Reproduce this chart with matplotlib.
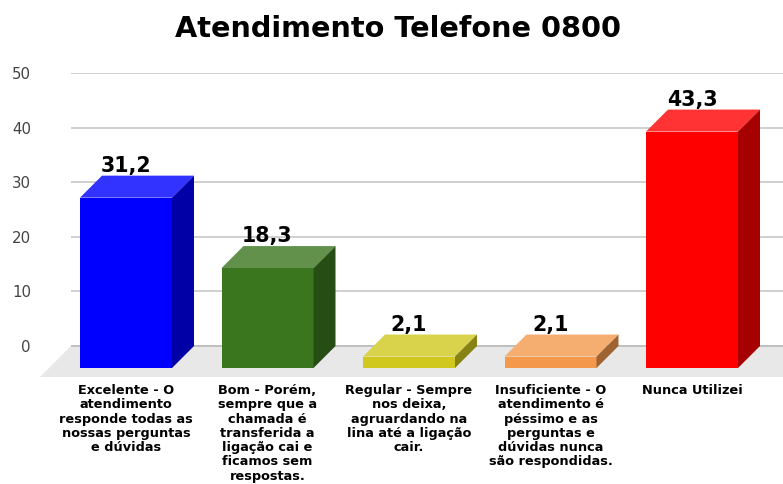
import matplotlib

matplotlib.use("Agg")
import matplotlib.pyplot as plt
import numpy as np
from matplotlib.colors import to_rgb
from matplotlib.patches import Polygon

title = "Atendimento Telefone 0800"
categories = [
    "Excelente - O\natendimento\nresponde todas as\nnossas perguntas\ne dúvidas",
    "Bom - Porém,\nsempre que a\nchamada é\ntransferida a\nligação cai e\nficamos sem\nrespostas.",
    "Regular - Sempre\nnos deixa,\nagruardando na\nlina até a ligação\ncair.",
    "Insuficiente - O\natendimento é\npéssimo e as\nperguntas e\ndúvidas nunca\nsão respondidas.",
    "Nunca Utilizei",
]
values = [31.2, 18.3, 2.1, 2.1, 43.3]
colors = ["#0000ff", "#3a761e", "#d0c81f", "#f4994c", "#ff0000"]
yticks = [0, 10, 20, 30, 40, 50]

W, H, DPI = 783, 484, 100
fig = plt.figure(figsize=(W / DPI, H / DPI), dpi=DPI)
# axes box in pixels: left 71, right 783, top 73 (=50), bottom 377
ax = fig.add_axes([71 / W, 1 - 377 / H, 712 / W, (377 - 73) / H])

px_x = 141.5  # pixels per category
px_y = 5.46  # pixels per unit
dx = 22 / px_x  # depth offset of the 3d bars
dy = 22 / px_y
width = 92 / px_x

x = np.arange(len(values))
ax.set_xlim(-55 / px_x, 657 / px_x)
ax.set_ylim(-31 / px_y, 50)

# floor
x0, x1 = ax.get_xlim()
fl = 31 / px_x
floor = Polygon(
    [(x0, 0), (x1 + 1, 0), (x1 + 1 - fl - 0.1, -31 / px_y), (-86 / px_x, -31 / px_y)],
    closed=True, facecolor="#e8e8e8", edgecolor="none", zorder=1, clip_on=False,
)
ax.add_patch(floor)

ax.set_yticks(yticks)
ax.grid(axis="y", color="#cccccc", lw=1.3, zorder=0)
ax.axhline(0, color="#333333", lw=1.2, zorder=1.5)

# front faces
ax.bar(x, values, width=width, bottom=-dy, color=colors, zorder=3, lw=0)

for xi, v, c in zip(x, values, colors):
    base = np.array(to_rgb(c))
    top = base + 0.2 * (1 - base)
    side = base * 0.65
    l, r = xi - width / 2, xi + width / 2
    yt = v - dy
    ax.add_patch(Polygon([(l, yt), (r, yt), (r + dx, v), (l + dx, v)],
                         closed=True, facecolor=top, edgecolor="none", zorder=3))
    ax.add_patch(Polygon([(r, -dy), (r + dx, 0), (r + dx, v), (r, yt)],
                         closed=True, facecolor=side, edgecolor="none", zorder=3))
    ax.text(xi, v + 0.7, f"{v:.1f}".replace(".", ","), ha="center", va="baseline",
            fontsize=14.8, fontweight="bold", color="black", zorder=5)

ax.set_xticks(x)
ax.set_xticklabels(categories, fontsize=9.3, fontweight="bold", linespacing=1.13,
                   va="top")
ax.tick_params(axis="x", length=0, pad=5)
ax.tick_params(axis="y", length=0, pad=28.8, labelsize=10.8, labelcolor="#444444")
for s in ax.spines.values():
    s.set_visible(False)

fig.text(398 / W, 1 - 37 / H, title, ha="center", va="baseline",
         fontsize=20.7, fontweight="bold")

fig.savefig("out.png", dpi=DPI)
